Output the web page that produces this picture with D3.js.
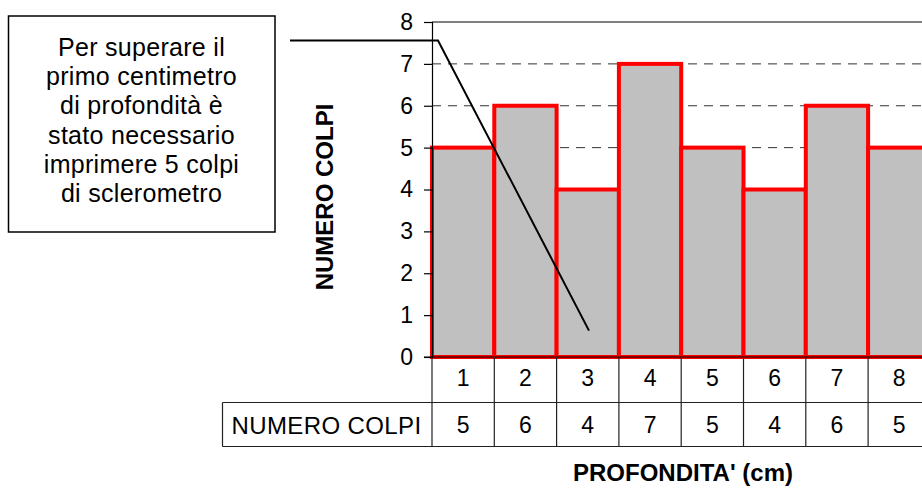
<!DOCTYPE html>
<html>
<head>
<meta charset="utf-8">
<script src="https://cdn.jsdelivr.net/npm/d3@7"></script>
<style>
  html, body { margin: 0; padding: 0; background: #fff; }
  svg { display: block; font-family: "Liberation Sans", Arial, sans-serif; }
</style>
</head>
<body>
<svg id="chart" width="922" height="488"></svg>
<script>
// Depth (cm) and number of sclerometer blows per centimetre
const depths = ["1", "2", "3", "4", "5", "6", "7", "8"];
const blows = [5, 6, 4, 7, 5, 4, 6, 5];
const yTicks = [0, 1, 2, 3, 4, 5, 6, 7, 8];
const rowLabel = "NUMERO COLPI";
const yTitle = "NUMERO COLPI";
const xTitle = "PROFONDITA' (cm)";
const noteLines = ["Per superare il", "primo centimetro", "di profondità è", "stato necessario", "imprimere 5 colpi", "di sclerometro"];

const svg = d3.select("#chart");

const plotLeft = 432, bandW = 62.3;
const plotTop = 22, plotBottom = 357;
const row1 = 402.5, row2 = 446.5;

const x = d3.scaleBand().domain(depths).range([plotLeft, plotLeft + bandW * depths.length]).padding(0);
const y = d3.scaleLinear().domain([0, 8]).range([plotBottom, plotTop]);

// dashed gridlines
svg.append("g").selectAll("line")
  .data(yTicks.filter(d => d > 0 && d < 8))
  .join("line")
  .attr("x1", plotLeft).attr("x2", 922)
  .attr("y1", d => y(d)).attr("y2", d => y(d))
  .attr("stroke", "#333").attr("stroke-width", 1)
  .attr("stroke-dasharray", "9,7");

// solid line at the top of the plot
svg.append("line")
  .attr("x1", plotLeft).attr("x2", 922)
  .attr("y1", y(8)).attr("y2", y(8))
  .attr("stroke", "#000").attr("stroke-width", 1.2);

// columns
svg.append("g").selectAll("rect")
  .data(blows)
  .join("rect")
  .attr("x", (d, i) => x(depths[i]))
  .attr("y", d => y(d))
  .attr("width", x.bandwidth())
  .attr("height", d => y(0) - y(d))
  .attr("fill", "#c0c0c0")
  .attr("stroke", "#ff0000")
  .attr("stroke-width", 4);

// y axis
const yAxis = d3.axisLeft(y).tickValues(yTicks).tickSize(8).tickPadding(11).tickFormat(d3.format("d"));
const gy = svg.append("g").attr("transform", `translate(${plotLeft},0)`).call(yAxis);
gy.select(".domain").attr("stroke", "#000").attr("stroke-width", 1.2);
gy.selectAll(".tick line").attr("stroke", "#000").attr("stroke-width", 1.2);
gy.selectAll(".tick text").attr("font-size", 23).attr("fill", "#000")
  .attr("font-family", "'Liberation Sans', Arial, sans-serif");

// baseline
svg.append("line")
  .attr("x1", plotLeft - 8).attr("x2", 922)
  .attr("y1", plotBottom).attr("y2", plotBottom)
  .attr("stroke", "#000").attr("stroke-width", 1.2);

// data table under the axis
const tbl = svg.append("g").attr("stroke", "#222").attr("stroke-width", 1.2);
tbl.append("line").attr("x1", 222.5).attr("x2", 922).attr("y1", row1).attr("y2", row1);
tbl.append("line").attr("x1", 222.5).attr("x2", 922).attr("y1", row2).attr("y2", row2);
tbl.append("line").attr("x1", 222.5).attr("x2", 222.5).attr("y1", row1).attr("y2", row2);
tbl.selectAll("line.v")
  .data(depths.map(d => x(d)).concat([x(depths[depths.length - 1]) + x.bandwidth()]))
  .join("line").attr("class", "v")
  .attr("x1", d => d).attr("x2", d => d)
  .attr("y1", plotBottom).attr("y2", row2);

svg.append("g").selectAll("text")
  .data(depths)
  .join("text")
  .attr("x", d => x(d) + x.bandwidth() / 2)
  .attr("y", 386)
  .attr("text-anchor", "middle")
  .attr("font-size", 23)
  .text(d => d);

svg.append("g").selectAll("text")
  .data(blows)
  .join("text")
  .attr("x", (d, i) => x(depths[i]) + x.bandwidth() / 2)
  .attr("y", 433)
  .attr("text-anchor", "middle")
  .attr("font-size", 23)
  .text(d => d);

svg.append("text")
  .attr("x", 326.5).attr("y", 434)
  .attr("text-anchor", "middle")
  .attr("font-size", 24)
  .attr("letter-spacing", 0.4)
  .text(rowLabel);

// axis titles
svg.append("text")
  .attr("transform", `translate(333,197) rotate(-90)`)
  .attr("text-anchor", "middle")
  .attr("font-size", 24).attr("font-weight", "bold")
  .text(yTitle);

svg.append("text")
  .attr("x", 683).attr("y", 481)
  .attr("text-anchor", "middle")
  .attr("font-size", 24).attr("font-weight", "bold")
  .text(xTitle);

// note box
svg.append("rect")
  .attr("x", 8.5).attr("y", 16).attr("width", 266.5).attr("height", 216)
  .attr("fill", "#fff").attr("stroke", "#000").attr("stroke-width", 1.5);

svg.append("g").selectAll("text")
  .data(noteLines)
  .join("text")
  .attr("x", 141.5)
  .attr("y", (d, i) => 56 + i * 29.2)
  .attr("text-anchor", "middle")
  .attr("font-size", 25)
  .attr("letter-spacing", 0.3)
  .text(d => d);

// leader line from the note to the first column
const lead = d3.line()([
  [290, y(7.56)],
  [x("1") + 6, y(7.56)],
  [x("3") + x.bandwidth() * 0.52, y(0.63)]
]);
svg.append("path")
  .attr("d", lead)
  .attr("fill", "none")
  .attr("stroke", "#000").attr("stroke-width", 2);
</script>
</body>
</html>
